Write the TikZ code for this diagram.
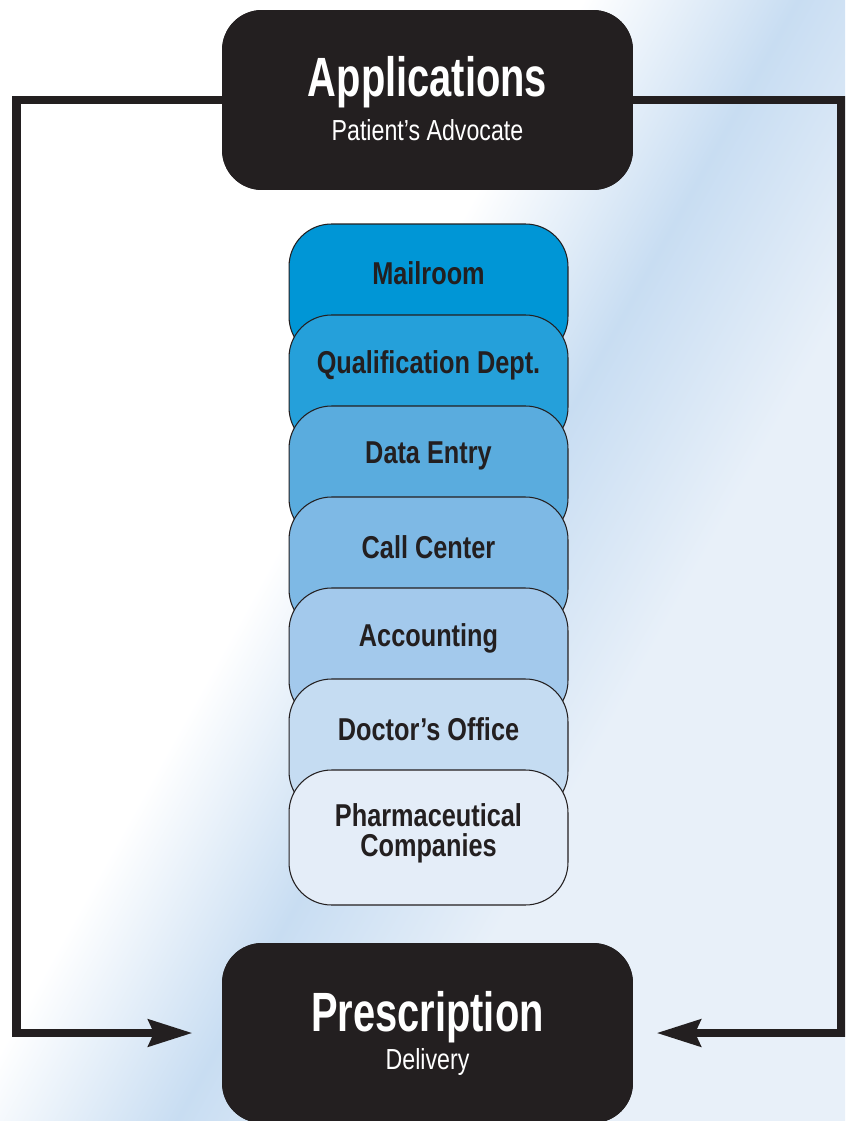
\documentclass[tikz,border=0pt]{standalone}
\usepackage{fontspec}
\usetikzlibrary{arrows.meta}

\newfontfamily\narrowfont[FakeStretch=0.8]{Liberation Sans}
\newfontfamily\headfont[FakeStretch=0.72]{Liberation Sans}

\definecolor{ink}{HTML}{231F20}
\definecolor{bandblue}{HTML}{C8DDF2}
\definecolor{paleblue}{HTML}{E8F0F9}
\definecolor{mailblue}{HTML}{0096D6}
\definecolor{qualblue}{HTML}{25A0DA}
\definecolor{datablue}{HTML}{5AACDE}
\definecolor{callblue}{HTML}{7EB9E5}
\definecolor{acctblue}{HTML}{A3C9EC}
\definecolor{docblue}{HTML}{C5DCF2}
\definecolor{pharmblue}{HTML}{E4EDF8}

\pgfdeclarehorizontalshading{skyband}{100bp}{color(0bp)=(white); color(43bp)=(white); color(53bp)=(bandblue); color(63bp)=(paleblue); color(100bp)=(paleblue)}

\begin{document}
\begin{tikzpicture}[x=0.02cm,y=-0.02cm,
        hub/.style={fill=ink, rounded corners=0.8cm, minimum width=8.22cm, minimum height=3.6cm},
        title/.style={text=white, inner sep=0pt, font=\headfont\bfseries\fontsize{31.5}{32}\selectfont},
        subtitle/.style={text=white, inner sep=0pt, font=\narrowfont\fontsize{16.5}{18}\selectfont},
        dept/.style={draw=ink, line width=0.6pt, rounded corners=0.85cm, minimum width=5.58cm, minimum height=2.7cm},
        deptlabel/.style={text=ink, inner sep=0pt, align=center, font=\narrowfont\bfseries\fontsize{18}{17}\selectfont},
        conn/.style={draw=ink, line width=5pt, -{Stealth[length=25pt,width=15pt,inset=3pt]}}]
        \useasboundingbox (0,0) rectangle (845,1121);
        \clip (0,0) rectangle (845,1121);
        \fill[shading=skyband, shading angle=-29] (0,0) rectangle (845,1121);

        \node[hub] (app) at (427.5,100) {};
        \node[hub] (pres) at (427.5,1033) {};

        \draw[conn, shorten >=0.58cm] (app.west) -- ++(-205,0) |- (pres.west);
        \draw[conn, shorten >=0.46cm] (app.east) -- ++(208,0) |- (pres.east);

        \node[hub] at (app) {};
        \node[hub] at (pres) {};
        \node[title] (appT) at (427.5,82) {Applications};
        \node[subtitle] (appS) at (427.5,130) {Patient’s Advocate};
        \node[title] (presT) at (427.5,1017) {Prescription};
        \node[subtitle] (presS) at (427.5,1062) {Delivery};

        \node[dept, fill=mailblue] (mail) at (428.5,291.5) {};
        \node[dept, fill=qualblue] (qual) at (428.5,382.5) {};
        \node[dept, fill=datablue] (data) at (428.5,473.5) {};
        \node[dept, fill=callblue] (call) at (428.5,564.5) {};
        \node[dept, fill=acctblue] (acct) at (428.5,655.5) {};
        \node[dept, fill=docblue] (doc) at (428.5,746.5) {};
        \node[dept, fill=pharmblue] (pharm) at (428.5,837.5) {};

        \node[deptlabel] (mailT) at (428.5,273) {Mailroom};
        \node[deptlabel] (qualT) at (428.5,365) {Qualification Dept.};
        \node[deptlabel] (dataT) at (428.5,456) {Data Entry};
        \node[deptlabel] (callT) at (428.5,547) {Call Center};
        \node[deptlabel] (acctT) at (428.5,638) {Accounting};
        \node[deptlabel] (docT) at (428.5,729) {Doctor’s Office};
        \node[deptlabel] (pharmT) at (428.5,833) {Pharmaceutical\\Companies};
    \end{tikzpicture}
\end{document}
